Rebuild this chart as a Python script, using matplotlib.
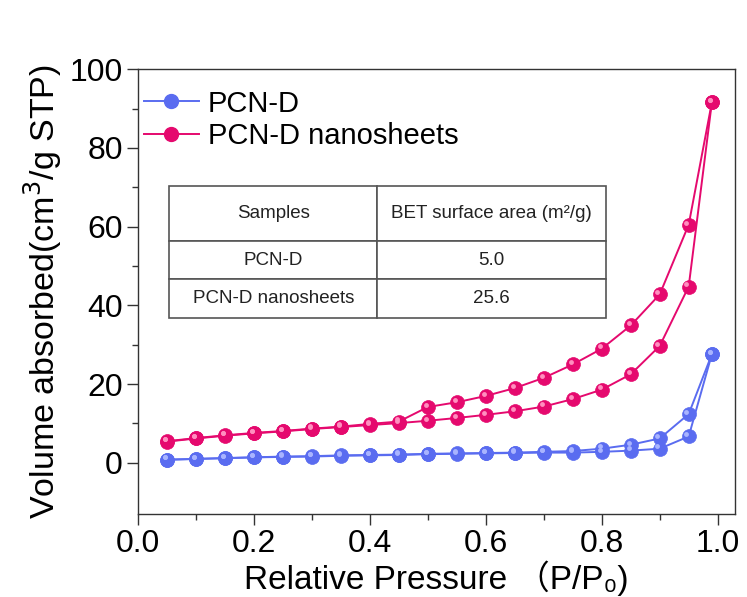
import matplotlib
matplotlib.use("Agg")
import matplotlib.pyplot as plt
import matplotlib.transforms as mtransforms
from matplotlib.lines import Line2D
import numpy as np

# relative pressure points, adsorption branch then desorption branch
p_ads = [0.05, 0.10, 0.15, 0.20, 0.25, 0.30, 0.35, 0.40, 0.45, 0.50,
         0.55, 0.60, 0.65, 0.70, 0.75, 0.80, 0.85, 0.90, 0.95, 0.99]
p_des = p_ads[::-1]

# PCN-D
pcn_ads = [0.8, 1.0, 1.2, 1.4, 1.5, 1.6, 1.8, 1.9, 2.0, 2.2,
           2.3, 2.4, 2.5, 2.6, 2.6, 2.8, 3.1, 3.6, 6.7, 27.6]
pcn_des = [27.6, 12.4, 6.2, 4.6, 3.6, 3.0, 2.8, 2.6, 2.5, 2.4,
           2.3, 2.1, 2.0, 1.9, 1.7, 1.6, 1.4, 1.2, 1.0, 0.8]

# PCN-D nanosheets
ns_ads = [5.4, 6.2, 6.9, 7.5, 8.0, 8.6, 9.1, 9.6, 10.1, 10.7,
          11.4, 12.2, 13.1, 14.3, 16.2, 18.6, 22.5, 29.7, 44.8, 91.6]
ns_des = [91.6, 60.5, 42.8, 34.9, 29.0, 25.0, 21.6, 19.0, 17.0, 15.4,
          14.2, 10.5, 9.9, 9.2, 8.7, 8.1, 7.6, 7.0, 6.3, 5.5]

samples = ["PCN-D", "PCN-D nanosheets"]
bet_area = ["5.0", "25.6"]

blue = "#5a6cf0"
blue_hi = "#a9b4ff"
pink = "#e5096e"
pink_hi = "#ff8fbf"

regular = ["Liberation Sans", "Noto Sans CJK SC", "DejaVu Sans"]

fig = plt.figure(figsize=(7.47, 5.97), dpi=100)
ax = fig.add_axes([0.185, 0.139, 0.799, 0.745])

hl = ax.transData + mtransforms.ScaledTranslation(-1.6 / 72, 1.6 / 72, fig.dpi_scale_trans)


def ball_line(x, y, c, c_hi):
    ax.plot(x, y, "-", color=c, lw=1.4, marker="o", ms=10, mfc=c, mec=c, mew=0.5, zorder=3)
    ax.plot(x, y, "o", ms=3.5, color=c_hi, mec="none", transform=hl, zorder=4)


ball_line(p_ads, pcn_ads, blue, blue_hi)
ball_line(p_des, pcn_des, blue, blue_hi)
ball_line(p_ads, ns_ads, pink, pink_hi)
ball_line(p_des, ns_des, pink, pink_hi)

ax.set_xlim(0, 1.03)
ax.set_ylim(-13, 100)
ax.set_xticks(np.arange(0, 1.01, 0.2))
ax.set_xticks(np.arange(0.1, 1.0, 0.2), minor=True)
ax.set_yticks(np.arange(0, 101, 20))
ax.set_yticks(np.arange(10, 100, 20), minor=True)
ax.xaxis.set_major_formatter(matplotlib.ticker.FormatStrFormatter("%.1f"))
ax.tick_params(which="major", direction="out", length=8, width=1, color="#333333", pad=3)
ax.tick_params(which="minor", direction="out", length=4, width=1, color="#333333")
ax.tick_params(top=False, right=False, which="both")
for lab in ax.get_xticklabels() + ax.get_yticklabels():
    lab.set_family(regular)
    lab.set_fontsize(23)
for s in ax.spines.values():
    s.set_color("#333333")
    s.set_linewidth(1.0)

ax.set_xlabel("Relative Pressure \uff08P/P\u2080)", family=regular, fontsize=24, labelpad=1)
ax.set_ylabel("Volume absorbed(cm$^3$/g STP)", family=["Liberation Sans"], fontsize=24.5,
              labelpad=4)

handles = [
    Line2D([], [], color=blue, lw=1.4, marker="o", ms=10, mfc=blue, mec=blue),
    Line2D([], [], color=pink, lw=1.4, marker="o", ms=10, mfc=pink, mec=pink),
]
ax.legend(handles, samples, loc="upper left", bbox_to_anchor=(-0.025, 1.0), frameon=False,
          prop={"family": regular, "size": 21}, handlelength=1.9, handletextpad=0.3,
          labelspacing=0.15, borderaxespad=0.3)

# BET surface area table
cells = [[samples[i], bet_area[i]] for i in range(len(samples))]
tbl = ax.table(cellText=cells, colLabels=["Samples", "BET surface area (m\u00b2/g)"],
               cellLoc="center", bbox=[0.052, 0.44, 0.732, 0.297], zorder=2)
tbl.auto_set_font_size(False)
heights = [55, 38, 39]
widths = [208, 229]
for (r, c), cell in tbl.get_celld().items():
    cell.set_height(heights[r])
    cell.set_width(widths[c])
    cell.set_edgecolor("#555555")
    cell.set_linewidth(1.2)
    cell.set_facecolor("white")
    cell.get_text().set_fontsize(13.5)
    cell.get_text().set_family(regular)
    cell.get_text().set_color("#222222")

fig.savefig("out.png", dpi=100)
